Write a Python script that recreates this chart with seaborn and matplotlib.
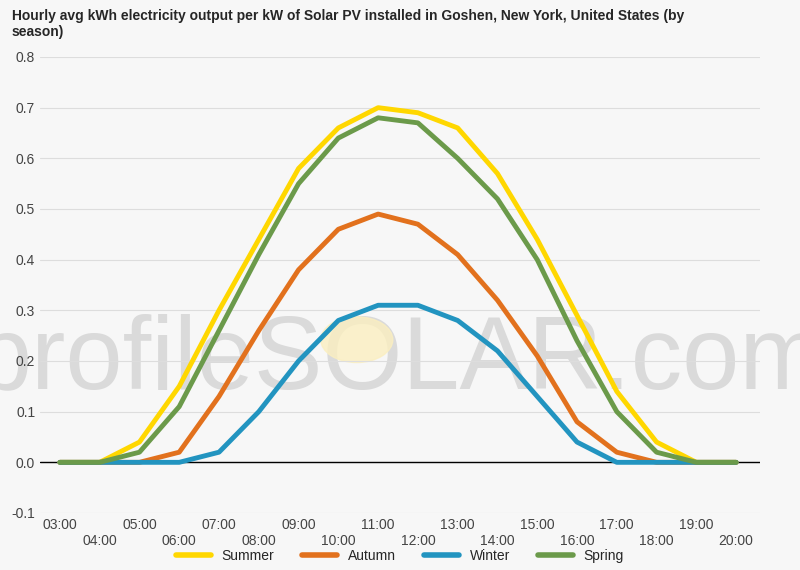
import matplotlib
matplotlib.use("Agg")
import matplotlib.pyplot as plt
import seaborn as sns
import pandas as pd

hours = list(range(3, 21))
labels = [f"{h:02d}:00" for h in hours]
summer = [0, 0, 0.04, 0.15, 0.30, 0.44, 0.58, 0.66, 0.70, 0.69, 0.66, 0.57, 0.44, 0.29, 0.14, 0.04, 0.0, 0.0]
autumn = [0, 0, 0, 0.02, 0.13, 0.26, 0.38, 0.46, 0.49, 0.47, 0.41, 0.32, 0.21, 0.08, 0.02, 0, 0, 0]
winter = [0, 0, 0, 0, 0.02, 0.10, 0.20, 0.28, 0.31, 0.31, 0.28, 0.22, 0.13, 0.04, 0, 0, 0, 0]
spring = [0, 0, 0.02, 0.11, 0.26, 0.41, 0.55, 0.64, 0.68, 0.67, 0.60, 0.52, 0.40, 0.24, 0.10, 0.02, 0, 0]
series = {"Summer": summer, "Autumn": autumn, "Winter": winter, "Spring": spring}
colors = {"Summer": "#ffd700", "Autumn": "#e2711d", "Winter": "#2294c0", "Spring": "#6b9a4a"}

df = pd.DataFrame([(h, s, v) for s, vals in series.items() for h, v in zip(hours, vals)],
                  columns=["hour", "season", "kwh"])

sns.set_style("whitegrid")
plt.rcParams["font.family"] = ["Liberation Sans", "DejaVu Sans"]
fig = plt.figure(figsize=(8, 5.7), dpi=100, facecolor="#f7f7f7")
ax = fig.add_axes([0.05, 0.1, 0.9, 0.8])
ax.set_facecolor("#f7f7f7")
ax.text(0.5, 0.33, "profileSOLAR.com", transform=ax.transAxes, ha="center", va="center",
        fontsize=74, color="#dadada", zorder=0)
ax.add_patch(plt.Circle((0.44, 0.38), 0.05, transform=ax.transAxes, color="#fbefc0",
                        alpha=0.8, zorder=0.5))
sns.lineplot(data=df, x="hour", y="kwh", hue="season", palette=colors, linewidth=3.5,
             ax=ax, legend=False, zorder=3, solid_capstyle="round", solid_joinstyle="round")
ax.axhline(0, color="black", linewidth=1, zorder=2)
ax.set_ylim(-0.1, 0.8)
ax.set_yticks([i / 10 for i in range(-1, 9)])
ax.set_yticklabels([f"{i/10:.1f}" for i in range(-1, 9)], fontsize=10, color="#444")
ax.set_xlim(2.5, 20.6)
ax.set_xticks(hours)
ax.set_xticklabels([l if h % 2 else "\n" + l for h, l in zip(hours, labels)], fontsize=10, color="#444")
ax.grid(axis="x", visible=False)
ax.grid(axis="y", color="#dddddd")
for s in ax.spines.values():
    s.set_visible(False)
ax.tick_params(length=0)
ax.set_xlabel(""); ax.set_ylabel("")
fig.text(0.015, 0.985, "Hourly avg kWh electricity output per kW of Solar PV installed in Goshen, New York, United States (by\nseason)",
         ha="left", va="top", fontsize=10, fontweight="bold")
handles = [plt.Line2D([], [], color=colors[s], linewidth=4) for s in series]
fig.legend(handles, list(series), loc="lower center", ncol=4, frameon=False,
           bbox_to_anchor=(0.5, -0.01), fontsize=10, handlelength=2.5)
fig.savefig("out.png", facecolor=fig.get_facecolor())
